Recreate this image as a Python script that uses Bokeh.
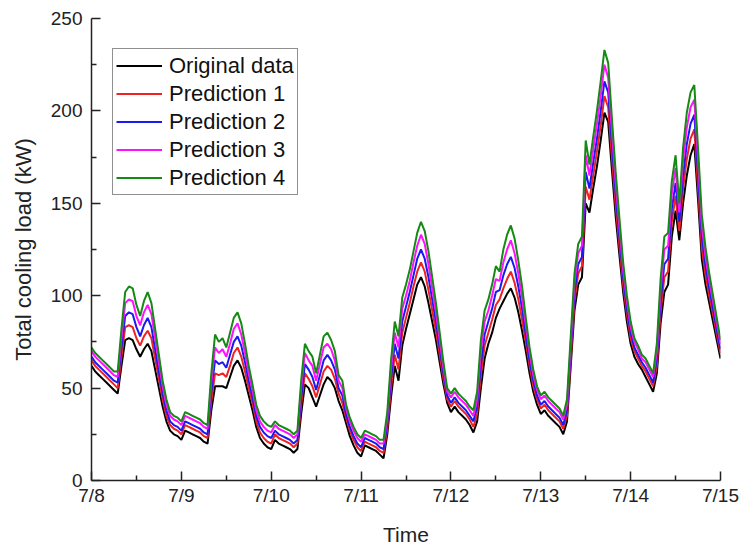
from bokeh.plotting import figure
from bokeh.models import Range1d, FixedTicker, Legend, LegendItem
from bokeh.embed import file_html
from bokeh.resources import INLINE

# hourly total cooling load (kW), 7/8 00:00 .. 7/15 00:00
date_labels = ["7/8", "7/9", "7/10", "7/11", "7/12", "7/13", "7/14", "7/15"]
series_names = ["Original data", "Prediction 1", "Prediction 2", "Prediction 3", "Prediction 4"]

original = [62, 59, 57, 55, 53, 51, 49, 47, 62, 76, 77, 76, 71, 67, 71, 74, 70, 60, 50, 40, 32, 27, 25, 24, 22,
            27, 26, 25, 24, 23, 21, 20, 38, 51, 51, 51, 50, 56, 62, 65, 61, 54, 46, 38, 29, 23, 20, 18, 17,
            22, 20, 19, 18, 17, 15, 17, 36, 52, 50, 45, 40, 46, 52, 56, 54, 50, 43, 38, 31, 24, 19, 15, 13,
            19, 18, 17, 16, 14, 12, 25, 45, 62, 54, 73, 82, 90, 98, 106, 110, 105, 96, 86, 76, 64, 52, 42, 37,
            40, 37, 35, 33, 30, 26, 32, 50, 66, 74, 80, 88, 93, 97, 101, 104, 99, 91, 81, 70, 58, 48, 41, 36,
            38, 35, 33, 31, 29, 25, 32, 62, 92, 106, 110, 150, 145, 158, 170, 184, 199, 194, 168, 143, 122, 102, 86, 74,
            67, 63, 60, 56, 52, 48, 58, 85, 102, 106, 132, 146, 130, 150, 165, 176, 182, 152, 120, 106, 96, 86, 76, 66]

prediction1 = [65, 62, 60, 58, 56, 54, 52, 50, 67, 83, 84, 83, 77, 73, 78, 81, 77, 66, 55, 44, 35, 30, 28, 27, 25,
               30, 29, 28, 27, 26, 24, 23, 43, 58, 57, 58, 56, 62, 69, 72, 67, 59, 50, 42, 32, 26, 23, 21, 20,
               25, 23, 22, 21, 20, 18, 20, 41, 58, 55, 51, 45, 52, 59, 62, 60, 55, 47, 42, 34, 27, 22, 18, 16,
               21, 20, 19, 18, 16, 15, 28, 50, 68, 60, 80, 88, 96, 105, 113, 118, 113, 103, 92, 81, 68, 55, 44, 40,
               43, 40, 38, 36, 33, 29, 36, 57, 73, 80, 87, 95, 98, 104, 109, 113, 107, 98, 87, 75, 62, 51, 44, 39,
               41, 38, 36, 34, 32, 28, 35, 66, 97, 112, 116, 159, 152, 165, 178, 192, 208, 202, 175, 149, 127, 106, 90, 77,
               70, 66, 62, 59, 55, 51, 62, 91, 110, 113, 140, 154, 135, 158, 174, 185, 190, 159, 126, 111, 100, 90, 79, 69]

prediction2 = [67, 64, 62, 60, 58, 56, 54, 53, 72, 89, 91, 90, 83, 78, 84, 88, 83, 71, 59, 47, 38, 32, 30, 29, 27,
               32, 31, 30, 29, 28, 26, 25, 48, 65, 63, 64, 61, 68, 75, 78, 73, 64, 54, 45, 35, 29, 26, 24, 23,
               27, 25, 24, 23, 22, 20, 22, 45, 63, 60, 56, 49, 57, 65, 68, 65, 60, 50, 46, 36, 29, 24, 20, 18,
               23, 22, 21, 20, 18, 17, 31, 55, 74, 66, 86, 94, 102, 111, 120, 125, 120, 110, 98, 86, 72, 58, 46, 42,
               45, 42, 40, 38, 35, 32, 40, 63, 79, 86, 93, 102, 103, 111, 117, 121, 115, 105, 93, 79, 65, 54, 46, 41,
               43, 40, 38, 36, 34, 30, 38, 70, 102, 117, 121, 167, 158, 172, 185, 200, 216, 210, 182, 155, 132, 110, 93, 80,
               72, 68, 64, 61, 57, 53, 66, 97, 117, 120, 147, 161, 140, 165, 182, 193, 198, 166, 132, 116, 104, 93, 82, 71]

prediction3 = [70, 67, 65, 63, 61, 59, 57, 56, 77, 96, 98, 97, 89, 84, 91, 95, 90, 77, 64, 51, 41, 35, 33, 32, 30,
               35, 34, 33, 32, 31, 29, 28, 53, 72, 69, 71, 67, 74, 82, 85, 79, 69, 58, 49, 38, 32, 29, 27, 26,
               30, 28, 27, 26, 25, 23, 25, 50, 69, 65, 62, 54, 63, 72, 74, 71, 65, 54, 50, 39, 32, 27, 23, 21,
               25, 24, 23, 22, 20, 20, 34, 60, 80, 72, 93, 100, 108, 118, 127, 133, 128, 117, 104, 91, 76, 61, 48, 45,
               48, 45, 43, 41, 38, 35, 44, 70, 86, 92, 100, 109, 108, 118, 125, 130, 123, 112, 99, 84, 69, 57, 49, 44,
               46, 43, 41, 39, 37, 33, 41, 74, 107, 123, 127, 176, 165, 179, 193, 208, 225, 218, 189, 161, 137, 114, 97, 83,
               75, 71, 66, 64, 60, 56, 70, 103, 125, 127, 155, 169, 145, 173, 191, 202, 206, 173, 138, 121, 108, 97, 85, 74]

prediction4 = [72, 69, 67, 65, 63, 61, 59, 59, 82, 102, 105, 104, 95, 89, 97, 102, 96, 82, 68, 54, 44, 37, 35, 34, 32,
               37, 36, 35, 34, 33, 31, 30, 58, 79, 75, 77, 72, 80, 88, 91, 85, 74, 62, 52, 41, 35, 32, 30, 29,
               32, 30, 29, 28, 27, 25, 27, 54, 74, 70, 67, 58, 68, 78, 80, 76, 70, 57, 54, 41, 34, 29, 25, 23,
               27, 26, 25, 24, 22, 22, 37, 65, 86, 78, 99, 106, 114, 124, 134, 140, 135, 124, 110, 96, 80, 64, 50, 47,
               50, 47, 45, 43, 40, 38, 48, 76, 92, 98, 106, 116, 113, 125, 133, 138, 131, 119, 105, 88, 72, 60, 51, 46,
               48, 45, 43, 41, 39, 35, 44, 78, 112, 128, 132, 184, 171, 186, 200, 216, 233, 226, 196, 167, 142, 118, 100, 86,
               77, 73, 68, 66, 62, 58, 74, 109, 132, 134, 162, 176, 150, 180, 199, 210, 214, 180, 144, 126, 112, 100, 88, 76]

hours = list(range(len(original)))
colors = ["#000000", "#ee2222", "#1a1aee", "#ff10ff", "#148a14"]
FONT = "Liberation Sans"

p = figure(width=740, height=548, output_backend="svg", toolbar_location=None,
           x_range=Range1d(0, 168), y_range=Range1d(0, 250),
           min_border_left=91, min_border_right=20, min_border_top=18, min_border_bottom=65)
p.outline_line_color = None
p.xgrid.visible = False
p.ygrid.visible = False
p.background_fill_color = "white"
p.border_fill_color = "white"

renderers = []
for ys, c in zip([original, prediction1, prediction2, prediction3, prediction4], colors):
    r = p.line(hours, ys, line_color=c, line_width=2)
    renderers.append(r)

major_x = [24 * i for i in range(len(date_labels))]
p.xaxis.ticker = FixedTicker(ticks=major_x, minor_ticks=[12 + 24 * i for i in range(7)])
p.xaxis.major_label_overrides = {t: lab for t, lab in zip(major_x, date_labels)}
p.yaxis.ticker = FixedTicker(ticks=[0, 50, 100, 150, 200, 250], minor_ticks=[25, 75, 125, 175, 225])

for ax in (p.xaxis[0], p.yaxis[0]):
    ax.axis_line_color = "#222222"
    ax.axis_line_width = 1.5
    ax.major_tick_line_color = "#222222"
    ax.major_tick_line_width = 1.5
    ax.minor_tick_line_color = "#222222"
    ax.minor_tick_line_width = 1.5
    ax.major_tick_in = 9
    ax.major_tick_out = 0
    ax.minor_tick_in = 5
    ax.minor_tick_out = 0
    ax.major_label_text_font = FONT
    ax.major_label_text_font_size = "19px"
    ax.major_label_text_color = "#222222"
    ax.axis_label_text_font = FONT
    ax.axis_label_text_font_style = "normal"
    ax.axis_label_text_color = "#222222"

p.xaxis.axis_label = "Time"
p.xaxis.axis_label_text_font_size = "21px"
p.xaxis.major_label_standoff = 4
p.xaxis.axis_label_standoff = 14
p.yaxis.axis_label = "Total cooling load (kW)"
p.yaxis.axis_label_text_font_size = "22px"
p.yaxis.major_label_standoff = 9
p.yaxis.axis_label_standoff = 12

legend = Legend(items=[LegendItem(label=n, renderers=[r]) for n, r in zip(series_names, renderers)],
                location=(21, 285), orientation="vertical")
legend.label_text_font = FONT
legend.label_text_font_size = "22px"
legend.label_text_color = "#111111"
legend.border_line_color = "#222222"
legend.border_line_width = 1
legend.background_fill_color = "white"
legend.background_fill_alpha = 1
legend.padding = 3
legend.spacing = 1
legend.margin = 0
legend.glyph_width = 46
legend.glyph_height = 27
legend.label_height = 27
legend.label_standoff = 7
p.add_layout(legend, "center")

html = file_html(p, INLINE)
open("out.html", "w").write(html)
